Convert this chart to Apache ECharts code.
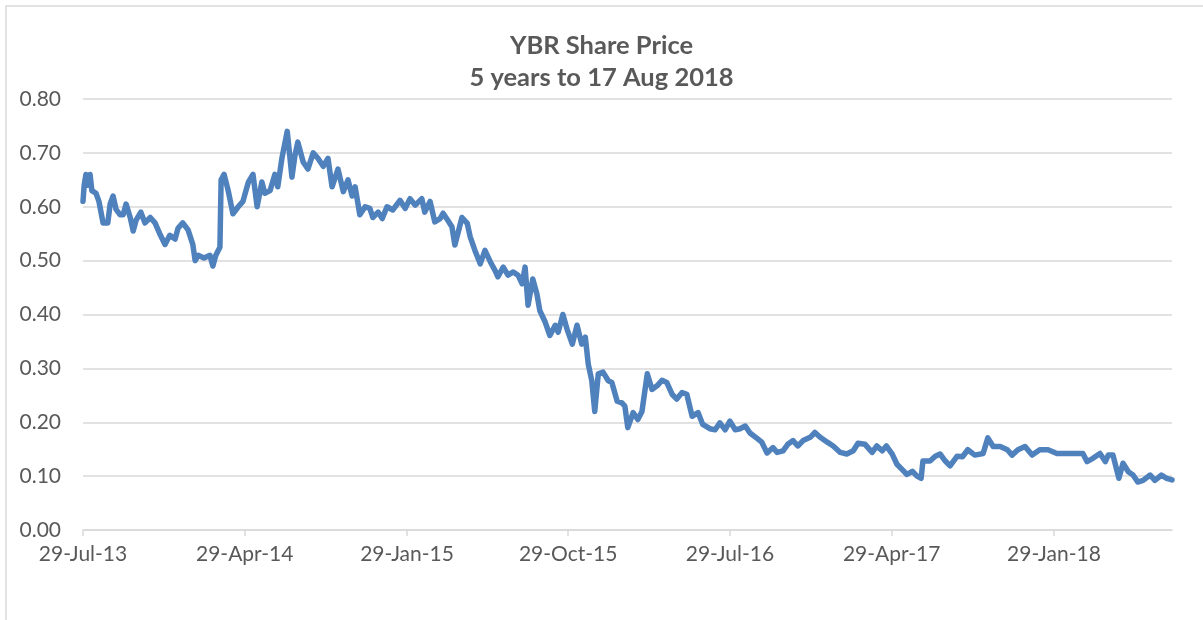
<!DOCTYPE html>
<html>
<head>
<meta charset="utf-8">
<title>YBR Share Price</title>
<script src="https://cdn.jsdelivr.net/npm/echarts@6/dist/echarts.min.js"></script>
<style>
  html, body { margin: 0; padding: 0; background: #fff; }
  #chart { width: 1203px; height: 620px; }
</style>
</head>
<body>
<div id="chart"></div>
<script>
// price readings (A$)
var dates = [
  '2013-07-29', '2013-07-31', '2013-08-03', '2013-08-06', '2013-08-10', '2013-08-13', '2013-08-20', '2013-08-25',
  '2013-09-01', '2013-09-09', '2013-09-13', '2013-09-18', '2013-09-23', '2013-09-30', '2013-10-05', '2013-10-10',
  '2013-10-17', '2013-10-22', '2013-10-27', '2013-11-04', '2013-11-11', '2013-11-20', '2013-11-28', '2013-12-06',
  '2013-12-15', '2013-12-23', '2014-01-01', '2014-01-06', '2014-01-14', '2014-01-23', '2014-01-31', '2014-02-04',
  '2014-02-09', '2014-02-19', '2014-03-01', '2014-03-06', '2014-03-11', '2014-03-18', '2014-03-20', '2014-03-25',
  '2014-04-01', '2014-04-09', '2014-04-18', '2014-04-26', '2014-05-05', '2014-05-13', '2014-05-20', '2014-05-28',
  '2014-06-02', '2014-06-11', '2014-06-19', '2014-06-24', '2014-07-01', '2014-07-10', '2014-07-18', '2014-07-23',
  '2014-07-28', '2014-08-06', '2014-08-14', '2014-08-23', '2014-08-31', '2014-09-09', '2014-09-17', '2014-09-24',
  '2014-10-04', '2014-10-13', '2014-10-21', '2014-10-28', '2014-11-02', '2014-11-10', '2014-11-19', '2014-11-27',
  '2014-12-02', '2014-12-11', '2014-12-18', '2014-12-26', '2015-01-05', '2015-01-17', '2015-01-26', '2015-02-03',
  '2015-02-12', '2015-02-23', '2015-02-28', '2015-03-09', '2015-03-12', '2015-03-17', '2015-03-26', '2015-03-31',
  '2015-04-08', '2015-04-15', '2015-04-20', '2015-04-25', '2015-05-02', '2015-05-11', '2015-05-16', '2015-05-24',
  '2015-06-02', '2015-06-10', '2015-06-19', '2015-06-27', '2015-07-02', '2015-07-11', '2015-07-19', '2015-07-28',
  '2015-08-05', '2015-08-12', '2015-08-17', '2015-08-22', '2015-08-30', '2015-09-06', '2015-09-11', '2015-09-20',
  '2015-09-28', '2015-10-07', '2015-10-12', '2015-10-20', '2015-10-27', '2015-11-05', '2015-11-13', '2015-11-21',
  '2015-11-27', '2015-12-02', '2015-12-08', '2015-12-13', '2015-12-19', '2015-12-27', '2016-01-05', '2016-01-11',
  '2016-01-20', '2016-01-28', '2016-02-02', '2016-02-07', '2016-02-16', '2016-02-24', '2016-03-02', '2016-03-11',
  '2016-03-19', '2016-03-28', '2016-04-05', '2016-04-13', '2016-04-22', '2016-04-30', '2016-05-09', '2016-05-17',
  '2016-05-26', '2016-06-05', '2016-06-13', '2016-06-25', '2016-07-04', '2016-07-12', '2016-07-21', '2016-07-29',
  '2016-08-07', '2016-08-15', '2016-08-24', '2016-09-01', '2016-09-13', '2016-09-21', '2016-09-30', '2016-10-10',
  '2016-10-17', '2016-10-27', '2016-11-04', '2016-11-13', '2016-11-21', '2016-11-30', '2016-12-12', '2016-12-20',
  '2016-12-29', '2017-01-10', '2017-01-20', '2017-02-01', '2017-02-12', '2017-02-23', '2017-03-03', '2017-03-15',
  '2017-03-27', '2017-04-04', '2017-04-13', '2017-04-20', '2017-04-30', '2017-05-08', '2017-05-17', '2017-05-25',
  '2017-06-03', '2017-06-11', '2017-06-18', '2017-06-21', '2017-07-03', '2017-07-12', '2017-07-20', '2017-07-29',
  '2017-08-06', '2017-08-18', '2017-08-27', '2017-09-05', '2017-09-17', '2017-10-01', '2017-10-09', '2017-10-18',
  '2017-10-30', '2017-11-11', '2017-11-19', '2017-11-29', '2017-12-11', '2017-12-23', '2018-01-05', '2018-01-19',
  '2018-02-03', '2018-02-20', '2018-03-09', '2018-03-19', '2018-03-26', '2018-04-05', '2018-04-17', '2018-04-26',
  '2018-05-01', '2018-05-09', '2018-05-19', '2018-05-26', '2018-06-04', '2018-06-12', '2018-06-20', '2018-06-29',
  '2018-07-11', '2018-07-19', '2018-07-30', '2018-08-08', '2018-08-17'
];
var prices = [
  0.610, 0.640, 0.660, 0.640, 0.660, 0.630, 0.625, 0.610,
  0.570, 0.570, 0.605, 0.620, 0.595, 0.585, 0.585, 0.605,
  0.580, 0.555, 0.575, 0.590, 0.570, 0.580, 0.570, 0.550,
  0.530, 0.547, 0.540, 0.560, 0.570, 0.557, 0.530, 0.500,
  0.510, 0.505, 0.510, 0.490, 0.510, 0.525, 0.650, 0.660,
  0.630, 0.587, 0.600, 0.610, 0.645, 0.660, 0.600, 0.646,
  0.625, 0.630, 0.660, 0.637, 0.690, 0.740, 0.655, 0.695,
  0.720, 0.683, 0.670, 0.700, 0.690, 0.675, 0.690, 0.637,
  0.670, 0.628, 0.650, 0.620, 0.637, 0.585, 0.600, 0.597,
  0.580, 0.590, 0.578, 0.600, 0.594, 0.612, 0.597, 0.615,
  0.603, 0.615, 0.590, 0.610, 0.612, 0.572, 0.578, 0.588,
  0.575, 0.563, 0.529, 0.550, 0.580, 0.569, 0.544, 0.519,
  0.494, 0.519, 0.498, 0.482, 0.470, 0.488, 0.473, 0.479,
  0.473, 0.457, 0.488, 0.417, 0.466, 0.438, 0.407, 0.386,
  0.361, 0.380, 0.367, 0.400, 0.373, 0.345, 0.380, 0.345,
  0.358, 0.308, 0.277, 0.220, 0.290, 0.293, 0.277, 0.274,
  0.239, 0.236, 0.230, 0.190, 0.218, 0.205, 0.220, 0.290,
  0.261, 0.268, 0.278, 0.274, 0.252, 0.243, 0.255, 0.252,
  0.211, 0.218, 0.196, 0.188, 0.186, 0.199, 0.186, 0.202,
  0.186, 0.188, 0.193, 0.180, 0.170, 0.163, 0.143, 0.153,
  0.144, 0.147, 0.159, 0.166, 0.156, 0.166, 0.172, 0.181,
  0.172, 0.163, 0.156, 0.144, 0.141, 0.147, 0.161, 0.159,
  0.144, 0.156, 0.147, 0.156, 0.141, 0.122, 0.112, 0.103,
  0.109, 0.100, 0.096, 0.128, 0.128, 0.137, 0.141, 0.128,
  0.119, 0.137, 0.136, 0.149, 0.139, 0.142, 0.171, 0.155,
  0.155, 0.149, 0.139, 0.149, 0.155, 0.139, 0.149, 0.149,
  0.142, 0.142, 0.142, 0.142, 0.127, 0.133, 0.142, 0.127,
  0.139, 0.139, 0.096, 0.124, 0.108, 0.102, 0.089, 0.092,
  0.102, 0.092, 0.102, 0.096, 0.093
];
var tickDates = ['2013-07-29', '2014-04-29', '2015-01-29', '2015-10-29', '2016-07-29', '2017-04-29', '2018-01-29'];
var startDate = '2013-07-29';
var endDate = '2018-08-17';

var MONTHS = ['Jan', 'Feb', 'Mar', 'Apr', 'May', 'Jun', 'Jul', 'Aug', 'Sep', 'Oct', 'Nov', 'Dec'];

function toTime(s) {
  var p = s.split('-');
  return new Date(+p[0], +p[1] - 1, +p[2]).getTime();
}

function fmtDate(v) {
  var d = new Date(v);
  return d.getDate() + '-' + MONTHS[d.getMonth()] + '-' + String(d.getFullYear()).slice(2);
}

var seriesData = dates.map(function (d, i) {
  return [toTime(d), prices[i]];
});
var tickTimes = tickDates.map(toTime);

var myChart = echarts.init(document.getElementById('chart'));

var option = {
  backgroundColor: '#ffffff',
  animation: false,
  title: {
    text: 'YBR Share Price\n5 years to 17 Aug 2018',
    left: 'center',
    top: 25,
    textStyle: {
      fontFamily: 'Lato',
      fontSize: 25.5,
      fontWeight: 'bold',
      color: '#595959',
      lineHeight: 32
    }
  },
  graphic: [
    {
      type: 'rect',
      shape: { x: 6, y: 6, width: 1260, height: 700 },
      style: { fill: 'none', stroke: '#d9d9d9', lineWidth: 1.5 },
      silent: true
    }
  ],
  grid: {
    left: 83,
    right: 31,
    top: 99,
    bottom: 90
  },
  // dates as a plain value axis (ms), so ticks can sit on the 9-monthly dates
  xAxis: {
    type: 'value',
    min: toTime(startDate),
    max: toTime(endDate),
    axisLine: { show: true, onZero: false, lineStyle: { color: '#d9d9d9', width: 1.5 } },
    axisTick: {
      show: true,
      customValues: tickTimes,
      length: 6,
      lineStyle: { color: '#d9d9d9', width: 1.5 }
    },
    axisLabel: {
      customValues: tickTimes,
      formatter: fmtDate,
      margin: 14,
      fontFamily: 'Lato',
      fontSize: 21,
      color: '#595959'
    },
    splitLine: { show: false }
  },
  yAxis: {
    type: 'value',
    min: 0,
    max: 0.8,
    interval: 0.1,
    axisLine: { show: false },
    axisTick: { show: false },
    axisLabel: {
      formatter: function (v) { return v.toFixed(2); },
      margin: 22,
      fontFamily: 'Lato',
      fontSize: 21,
      color: '#595959'
    },
    splitLine: { lineStyle: { color: '#d9d9d9', width: 1.5 } }
  },
  series: [
    {
      name: 'YBR',
      type: 'line',
      data: seriesData,
      showSymbol: false,
      lineStyle: { color: '#4f81bd', width: 5.5, join: 'round', cap: 'round' },
      itemStyle: { color: '#4f81bd' }
    }
  ]
};

myChart.setOption(option);
</script>
</body>
</html>
